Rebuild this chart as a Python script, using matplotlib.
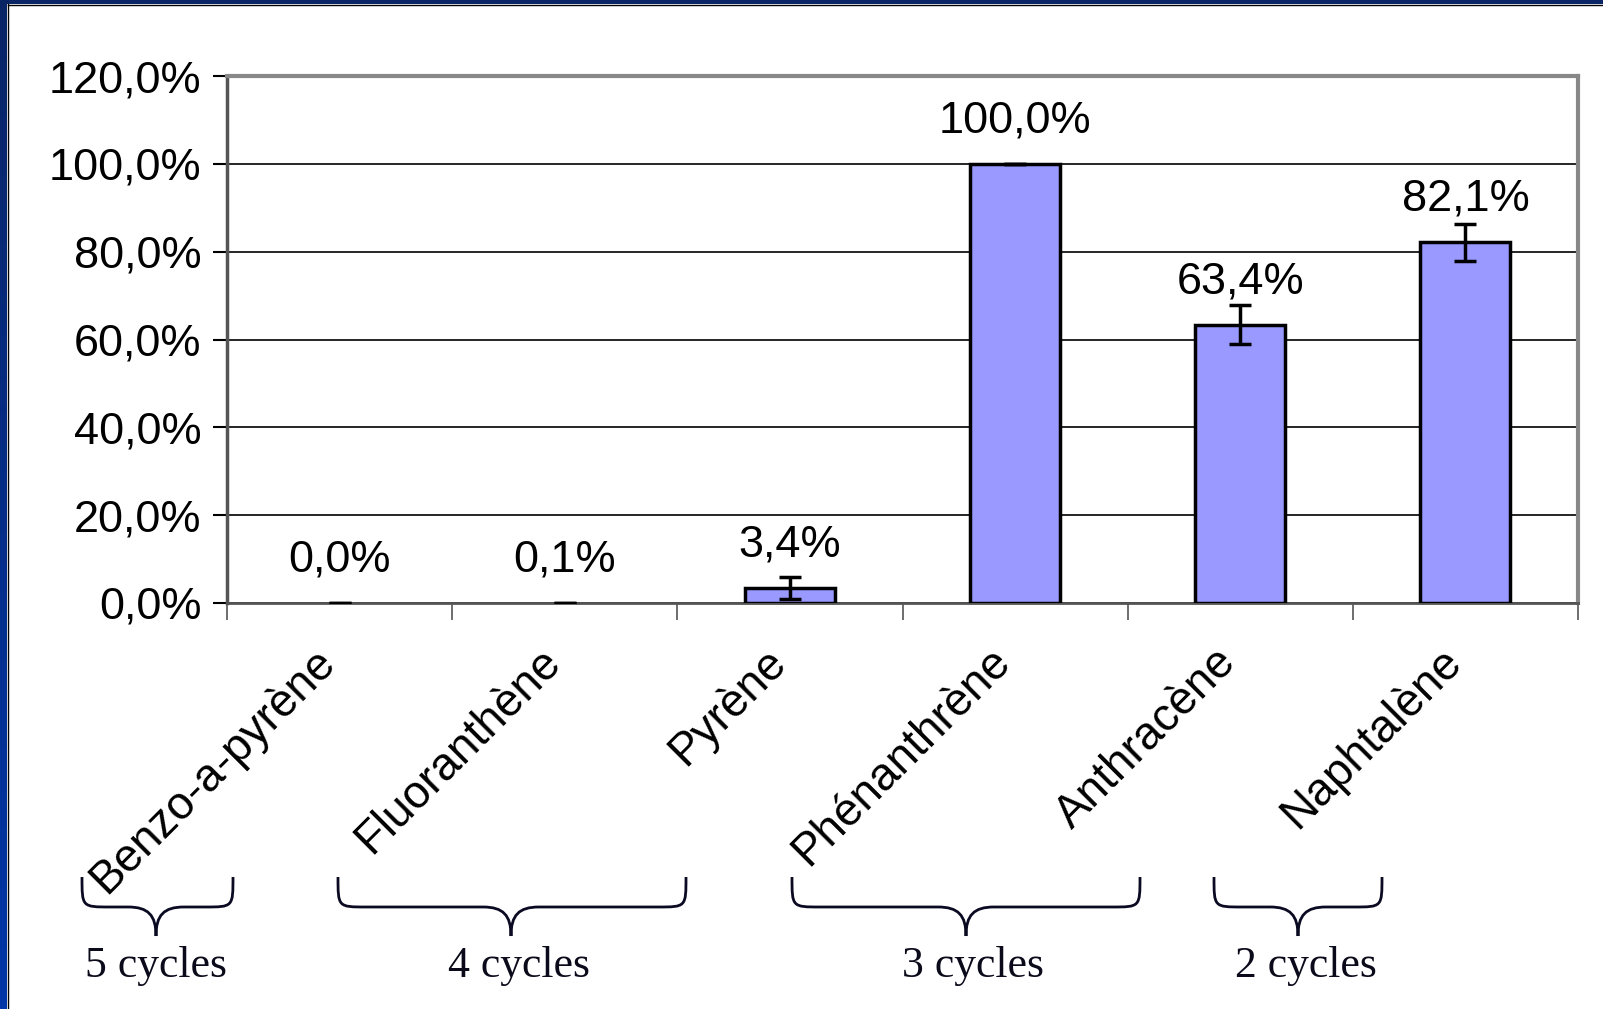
import matplotlib
matplotlib.use("Agg")
import matplotlib.pyplot as plt
import numpy as np
from matplotlib.path import Path
from matplotlib.patches import PathPatch, Rectangle
from matplotlib.colors import LinearSegmentedColormap

# ---- data ----
categories = ["Benzo-a-pyrène", "Fluoranthène", "Pyrène", "Phénanthrène", "Anthracène", "Naphtalène"]
values = [0.0, 0.1, 3.4, 100.0, 63.4, 82.1]
errors = [0.0, 0.0, 2.6, 0.0, 4.5, 4.3]
value_labels = ["0,0%", "0,1%", "3,4%", "100,0%", "63,4%", "82,1%"]
yticks = [0, 20, 40, 60, 80, 100, 120]
group_labels = ["5 cycles", "4 cycles", "3 cycles", "2 cycles"]

W, H = 1603, 1009
fig = plt.figure(figsize=(W / 100, H / 100), dpi=100)
fig.patch.set_facecolor("white")

L, R, T, B = 227, 1578, 76, 603
ax = fig.add_axes([L / W, 1 - B / H, (R - L) / W, (B - T) / H])
x = np.arange(len(categories))
edge_w = [2.5 if v >= 0.5 else 0 for v in values]
ax.bar(x, values, width=0.4, color="#9999FF", edgecolor="black", linewidth=edge_w, zorder=3)
ax.errorbar(x, values, yerr=errors, fmt="none", ecolor="black", elinewidth=2.5,
            capsize=8, capthick=2.5, zorder=4)
for xi, v, lab in zip(x, values, value_labels):
    ax.annotate(lab, (xi, v), xytext=(0, 31), textcoords="offset points",
                ha="center", va="center", fontsize=32.5, family="Liberation Sans")

ax.set_xlim(-0.5, len(categories) - 0.5)
ax.set_ylim(0, 120)
ax.set_yticks(yticks)
ax.set_yticklabels([f"{t:.1f}%".replace(".", ",") for t in yticks],
                   fontsize=32.5, family="Liberation Sans")
ax.tick_params(axis="y", length=10, width=1.5, pad=8.5, color="black")
ax.yaxis.grid(True, color="black", linewidth=1.2, zorder=0)
ax.set_axisbelow(True)
ax.set_xticks(np.arange(-0.5, len(categories), 1.0), minor=False)
ax.set_xticklabels([])
ax.tick_params(axis="x", length=12, width=1.2, color="#555555", direction="out")
for s in ["top", "right"]:
    ax.spines[s].set_color("#888888")
    ax.spines[s].set_linewidth(3)
ax.spines["left"].set_color("#555555")
ax.spines["left"].set_linewidth(2.5)
ax.spines["bottom"].set_color("#555555")
ax.spines["bottom"].set_linewidth(2)

# category labels
for xi, c in zip(x, categories):
    ax.annotate(c, (xi, 0), xytext=(-8, -37.5), textcoords="offset points",
                rotation=45, rotation_mode="anchor", ha="right", va="center",
                fontsize=33, family="Liberation Sans", annotation_clip=False)

# overlay in pixel coordinates
ov = fig.add_axes([0, 0, 1, 1], zorder=10)
ov.axis("off")
ov.patch.set_alpha(0)

# border
grad = np.linspace(0, 1, 256).reshape(-1, 1)
cm = LinearSegmentedColormap.from_list("b", ["#0a2566", "#0036a8"])
ov.imshow(grad, extent=(0, 7, H, 0), cmap=cm, aspect="auto", zorder=1)
ov.add_patch(Rectangle((0, 0), W, 4, color="#0a2566", zorder=1, lw=0))
ov.plot([7.5, 7.5], [4, H], color="black", lw=1, zorder=2)
ov.plot([7.5, W], [4.5, 4.5], color="black", lw=1, zorder=2)
ov.set_xlim(0, W)
ov.set_ylim(H, 0)

# braces
braces = [(82, 233, 156), (338, 686, 511), (792, 1140, 966), (1214, 1382, 1298)]
label_x = [156, 519, 973, 1306]
ytop, ymid, ytip = 877, 907, 936


def brace(x0, x1, xc):
    r = 28
    verts = [(x0, ytop), (x0, ymid), (x0, ymid), (x0 + r, ymid),
             (xc - r, ymid),
             (xc - 8, ymid), (xc, ymid + 8), (xc, ytip),
             (xc, ymid + 8), (xc + 8, ymid), (xc + r, ymid),
             (x1 - r, ymid),
             (x1, ymid), (x1, ymid), (x1, ytop)]
    codes = [Path.MOVETO, Path.CURVE4, Path.CURVE4, Path.CURVE4,
             Path.LINETO,
             Path.CURVE4, Path.CURVE4, Path.CURVE4,
             Path.CURVE4, Path.CURVE4, Path.CURVE4,
             Path.LINETO,
             Path.CURVE4, Path.CURVE4, Path.CURVE4]
    return Path(verts, codes)


for (x0, x1, xc), lx, lab in zip(braces, label_x, group_labels):
    ov.add_patch(PathPatch(brace(x0, x1, xc), fill=False, edgecolor="#0a0a22", lw=2, zorder=3))
    ov.text(lx, 966, lab, ha="center", va="center", fontsize=31.5,
            family="Liberation Serif", color="#0a0a1a", zorder=3)

fig.savefig("out.png", dpi=100)
